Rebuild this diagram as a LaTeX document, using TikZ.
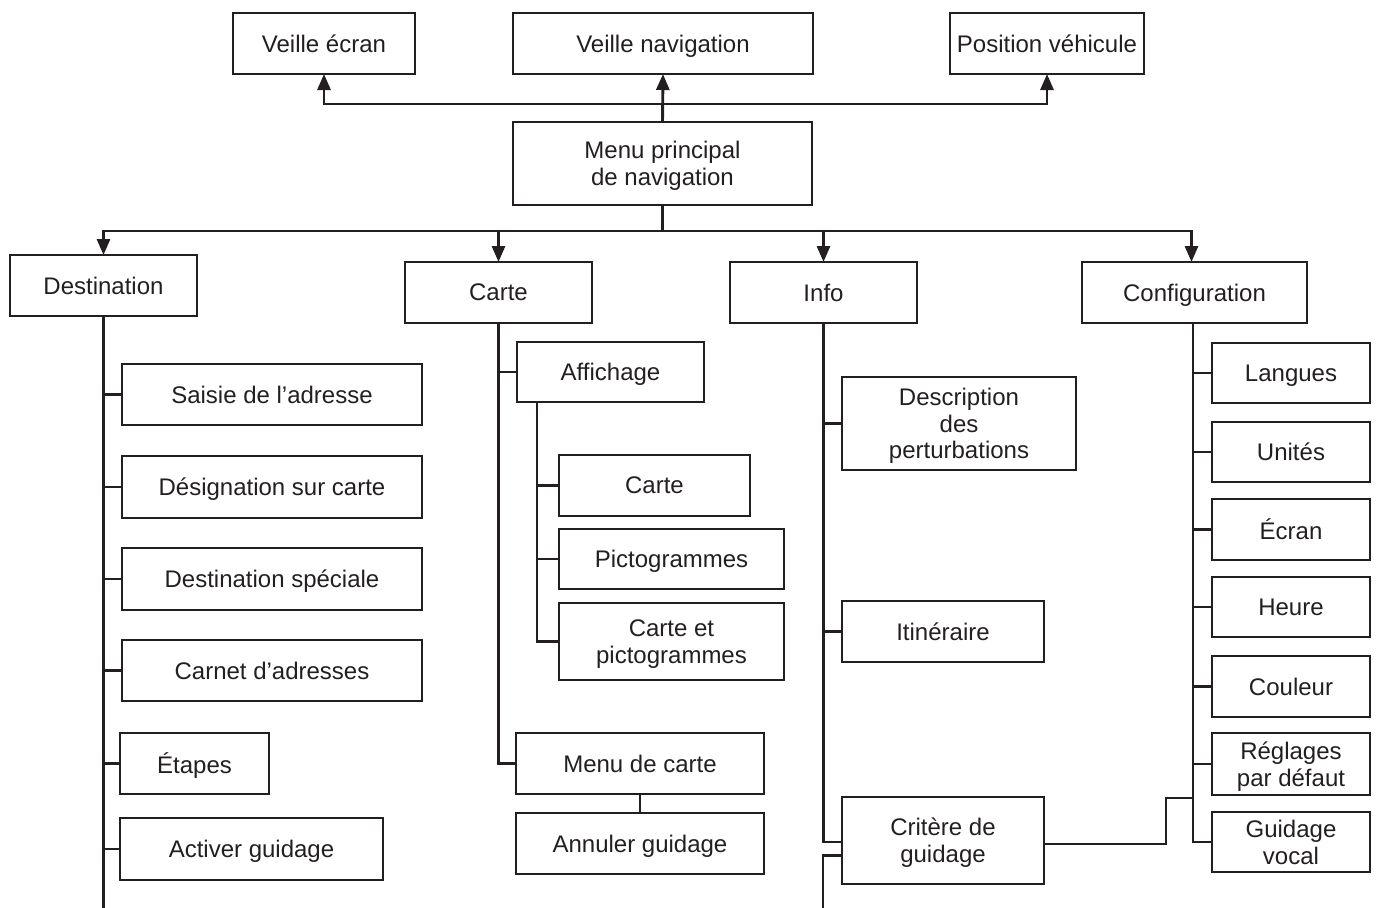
\documentclass[tikz,border=0pt]{standalone}
\usepackage{fontspec}
\setmainfont{Liberation Sans}
\usetikzlibrary{arrows.meta}
\definecolor{ink}{HTML}{231F20}
\tikzset{
  box/.style={draw=ink, line width=2.9pt, rectangle, inner sep=0pt, outer sep=0pt,
    align=center, text=ink, text depth=0pt, font=\fontsize{24}{26.7}\selectfont},
  wire/.style={draw=ink, line width=2.9pt},
  arr/.style={wire, -{Triangle[length=16pt,width=13pt]}}
}
\newcommand\bx[6]{\node[box, minimum width={#4-#2}, minimum height={#5-#3}] (#1) at ({(#2+#4)/2},{(#3+#5)/2}) {#6};}
\begin{document}
\begin{tikzpicture}[x=1pt,y=-1pt]
\useasboundingbox (0,0) rectangle (1377,908);
% top
\bx{VE}{233}{13}{415}{74}{Veille écran}
\bx{VN}{513}{13}{813}{74}{Veille navigation}
\bx{PV}{950}{13}{1144}{74}{Position véhicule}
\bx{Menu}{513}{122}{812}{205}{Menu principal\\de navigation}
% level 1
\bx{Dest}{10}{255}{197}{316}{Destination}
\bx{Carte}{405}{262}{592}{323}{Carte}
\bx{Info}{730}{262}{917}{323}{Info}
\bx{Conf}{1082}{262}{1307}{323}{Configuration}
% destination
\bx{Saisie}{122}{364}{422}{425}{Saisie de l’adresse}
\bx{Desig}{122}{456}{422}{518}{Désignation sur carte}
\bx{DSpec}{122}{548}{422}{610}{Destination spéciale}
\bx{Carnet}{122}{640}{422}{701}{Carnet d’adresses}
\bx{Etapes}{120}{733}{269}{794}{Étapes}
\bx{Activer}{120}{818}{383}{880}{Activer guidage}
% carte
\bx{Aff}{517}{342}{704}{402}{Affichage}
\bx{CSub}{559}{455}{750}{516}{Carte}
\bx{Picto}{559}{529}{784}{589}{Pictogrammes}
\bx{CetP}{559}{603}{784}{680}{Carte et\\pictogrammes}
\bx{MCarte}{516}{733}{764}{794}{Menu de carte}
\bx{Annuler}{516}{813}{764}{874}{Annuler guidage}
% info
\bx{Desc}{842}{377}{1076}{470}{Description\\des\\perturbations}
\bx{Itin}{842}{601}{1044}{662}{Itinéraire}
\bx{Crit}{842}{797}{1044}{884}{Critère de\\guidage}
% configuration
\bx{Lang}{1212}{343}{1370}{403}{Langues}
\bx{Unit}{1212}{422}{1370}{482}{Unités}
\bx{Ecran}{1212}{499}{1370}{560}{Écran}
\bx{Heure}{1212}{577}{1370}{637}{Heure}
\bx{Coul}{1212}{656}{1370}{717}{Couleur}
\bx{Regl}{1212}{733}{1370}{795}{Réglages\\par défaut}
\bx{GVoc}{1212}{812}{1370}{872}{Guidage\\vocal}
% coordinates
\coordinate (hubT) at (662.5,104);
\coordinate (hubB) at (662.5,231);
\coordinate (destEnd) at (103.5,908);
\coordinate (affT) at (537,402);
\coordinate (infoEnd) at (823,908);
\coordinate (confJ) at (1193,798);
\coordinate (confT) at (1193,323);
% top arrows
\draw[arr] (Menu.north) -- (VN.south);
\draw[arr] (hubT) -| (VE.south);
\draw[arr] (hubT) -| (PV.south);
% level-1 arrows
\draw[wire] (Menu.south) -- (hubB);
\draw[arr] (hubB) -| (Dest.north);
\draw[arr] (hubB) -| (Carte.north);
\draw[arr] (hubB) -| (Info.north);
\draw[arr] (hubB) -| ([xshift=-3pt]Conf.north);
% destination tree
\draw[wire] (Dest.south) -- (destEnd);
\foreach \n in {Saisie,Desig,DSpec,Carnet,Etapes,Activer}
  \draw[wire] (Dest.south) |- (\n.west);
% carte tree
\foreach \n in {Aff,MCarte}
  \draw[wire] (Carte.south) |- (\n.west);
\foreach \n in {CSub,Picto,CetP}
  \draw[wire] (affT) |- (\n.west);
\draw[wire] (MCarte) -- (Annuler);
% info tree
\foreach \n in {Desc,Itin}
  \draw[wire] (Info.south) |- (\n.west);
\draw[wire] (Info.south) |- ([yshift=-1.5pt]Crit.west);
\draw[wire] ([yshift=-15pt]Crit.west) -| (infoEnd);
% configuration tree
\foreach \n in {Lang,Unit,Ecran,Heure,Coul,Regl,GVoc}
  \draw[wire] (confT) |- (\n.west);
\draw[wire] ([yshift=-3.5pt]Crit.east) -| (1166,798) -- (confJ);
\end{tikzpicture}
\end{document}
